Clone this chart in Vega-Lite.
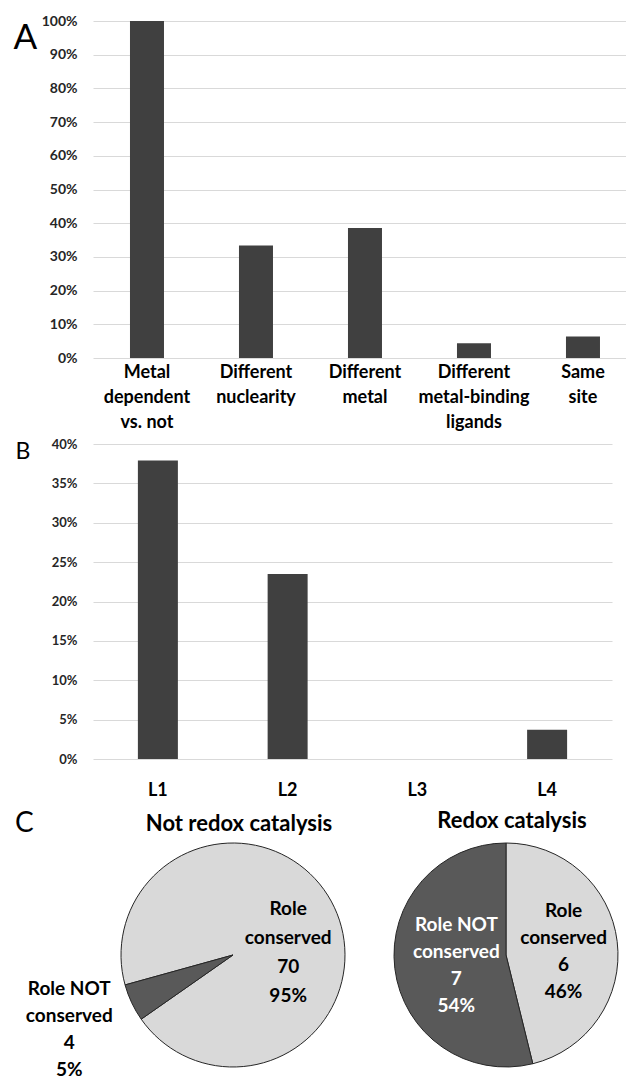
{
  "$schema": "https://vega.github.io/schema/vega-lite/v6.json",
  "background": "white",
  "padding": {"left": 13, "top": 14, "right": 0, "bottom": 0},
  "config": {"font": "Lato", "view": {"stroke": null}},
  "bounds": "flush",
  "spacing": 86,
  "vconcat": [
    {
      "width": 533,
      "height": 337,
      "data": {"values": [
        {"category": "Metal dependent vs. not", "share": 1.0},
        {"category": "Different nuclearity", "share": 0.334},
        {"category": "Different metal", "share": 0.386},
        {"category": "Different metal-binding ligands", "share": 0.044},
        {"category": "Same site", "share": 0.064}
      ]},
      "mark": {"type": "bar", "color": "#404040"},
      "encoding": {
        "x": {
          "field": "category", "type": "nominal", "sort": null,
          "scale": {"paddingInner": 0.688, "paddingOuter": 0.289, "align": 0.587},
          "axis": {
            "title": null, "labelAngle": 0, "ticks": false, "domain": false, "grid": false,
            "labelFontSize": 18, "labelFontWeight": "bold", "labelColor": "#000000",
            "labelLineHeight": 25, "labelPadding": 5, "labelLimit": 0,
            "labelExpr": "datum.value == 'Metal dependent vs. not' ? ['Metal','dependent','vs. not'] : datum.value == 'Different nuclearity' ? ['Different','nuclearity'] : datum.value == 'Different metal' ? ['Different','metal'] : datum.value == 'Different metal-binding ligands' ? ['Different','metal-binding','ligands'] : ['Same','site']"
          }
        },
        "y": {
          "field": "share", "type": "quantitative",
          "scale": {"domain": [0, 1], "nice": false},
          "axis": {
            "values": [0, 0.1, 0.2, 0.3, 0.4, 0.5, 0.6, 0.7, 0.8, 0.9, 1.0],
            "format": ".0%", "labelFontSize": 14, "labelFontWeight": "bold", "labelColor": "#262626",
            "labelPadding": 16, "ticks": false, "domain": false, "gridColor": "#d9d9d9",
            "title": "A", "titleAngle": 0, "titleAlign": "left", "titleBaseline": "alphabetic",
            "titleX": -80, "titleY": 27, "titleFontSize": 35, "titleFontWeight": "normal", "titleColor": "#000000"
          }
        }
      }
    },
    {
      "width": 519,
      "height": 315,
      "data": {"values": [
        {"level": "L1", "share": 0.379},
        {"level": "L2", "share": 0.235},
        {"level": "L3", "share": 0.0},
        {"level": "L4", "share": 0.037}
      ]},
      "mark": {"type": "bar", "color": "#404040"},
      "encoding": {
        "x": {
          "field": "level", "type": "nominal", "sort": null,
          "scale": {"paddingInner": 0.6917, "paddingOuter": 0.346},
          "axis": {
            "title": null, "labelAngle": 0, "ticks": false, "domain": false, "grid": false,
            "labelFontSize": 18, "labelFontWeight": "bold", "labelColor": "#000000", "labelPadding": 22
          }
        },
        "y": {
          "field": "share", "type": "quantitative",
          "scale": {"domain": [0, 0.4], "nice": false},
          "axis": {
            "values": [0, 0.05, 0.1, 0.15, 0.2, 0.25, 0.3, 0.35, 0.4],
            "format": ".0%", "labelFontSize": 13, "labelFontWeight": "bold", "labelColor": "#262626",
            "labelPadding": 16, "ticks": false, "domain": false, "gridColor": "#d9d9d9",
            "title": "B", "titleAngle": 0, "titleAlign": "left", "titleBaseline": "alphabetic",
            "titleX": -78, "titleY": 14, "titleFontSize": 23, "titleFontWeight": "normal", "titleColor": "#000000"
          }
        }
      }
    },
    {
      "bounds": "flush",
      "spacing": 20,
      "title": {"text": "C", "anchor": "start", "frame": "group", "dx": -78, "offset": -50, "fontSize": 28, "fontWeight": "normal", "color": "#000000", "baseline": "alphabetic"},
      "hconcat": [
        {
          "width": 280,
          "height": 220,
          "title": {"text": "Not redox catalysis", "fontSize": 22, "fontWeight": "bold", "color": "#000000", "dx": 6, "offset": -27, "baseline": "alphabetic"},
          "data": {"values": [
            {"role": "Role conserved", "count": 70, "label": "Role\nconserved\n70\n95%"},
            {"role": "Role NOT conserved", "count": 4, "label": "Role NOT\nconserved\n4\n5%"}
          ]},
          "encoding": {
            "theta": {"field": "count", "type": "quantitative", "stack": true, "scale": {"range": [4.4418, 10.7250]}},
            "order": {"field": "role", "sort": "descending"},
            "detail": {"field": "role"}
          },
          "layer": [
            {
              "mark": {"type": "arc", "outerRadius": 112, "stroke": "#262626", "strokeWidth": 1},
              "encoding": {
                "color": {"field": "role", "type": "nominal", "scale": {"domain": ["Role conserved", "Role NOT conserved"], "range": ["#d9d9d9", "#595959"]}, "legend": null}
              }
            },
            {
              "mark": {"type": "text", "radius": 61, "dy": -20, "fontSize": 19, "fontWeight": "bold", "lineBreak": "\n", "lineHeight": 29, "baseline": "middle", "align": "center", "color": "#000000"},
              "encoding": {"text": {"condition": {"test": "datum.role == 'Role conserved'", "field": "label"}, "value": ""}}
            },
            {
              "mark": {"type": "text", "radius": 181, "dy": -43, "fontSize": 19, "fontWeight": "bold", "lineBreak": "\n", "lineHeight": 27, "baseline": "middle", "align": "center", "color": "#000000"},
              "encoding": {"text": {"condition": {"test": "datum.role == 'Role NOT conserved'", "field": "label"}, "value": ""}}
            }
          ]
        },
        {
          "width": 226,
          "height": 220,
          "title": {"text": "Redox catalysis", "fontSize": 22, "fontWeight": "bold", "color": "#000000", "dx": 6, "offset": -9, "baseline": "alphabetic"},
          "data": {"values": [
            {"role": "Role conserved", "count": 6, "label": "Role\nconserved\n6\n46%"},
            {"role": "Role NOT conserved", "count": 7, "label": "Role NOT\nconserved\n7\n54%"}
          ]},
          "encoding": {
            "theta": {"field": "count", "type": "quantitative", "stack": true},
            "order": {"field": "role", "sort": "descending"},
            "detail": {"field": "role"}
          },
          "layer": [
            {
              "mark": {"type": "arc", "outerRadius": 112, "stroke": "#262626", "strokeWidth": 1},
              "encoding": {
                "color": {"field": "role", "type": "nominal", "scale": {"domain": ["Role conserved", "Role NOT conserved"], "range": ["#d9d9d9", "#595959"]}, "legend": null}
              }
            },
            {
              "mark": {"type": "text", "radius": 58, "dy": -37, "fontSize": 19, "fontWeight": "bold", "lineBreak": "\n", "lineHeight": 27, "baseline": "middle", "align": "center", "color": "#000000"},
              "encoding": {"text": {"condition": {"test": "datum.role == 'Role conserved'", "field": "label"}, "value": ""}}
            },
            {
              "mark": {"type": "text", "radius": 50, "dy": -36, "fontSize": 19, "fontWeight": "bold", "lineBreak": "\n", "lineHeight": 27, "baseline": "middle", "align": "center", "color": "#ffffff"},
              "encoding": {"text": {"condition": {"test": "datum.role == 'Role NOT conserved'", "field": "label"}, "value": ""}}
            }
          ]
        }
      ]
    }
  ]
}
